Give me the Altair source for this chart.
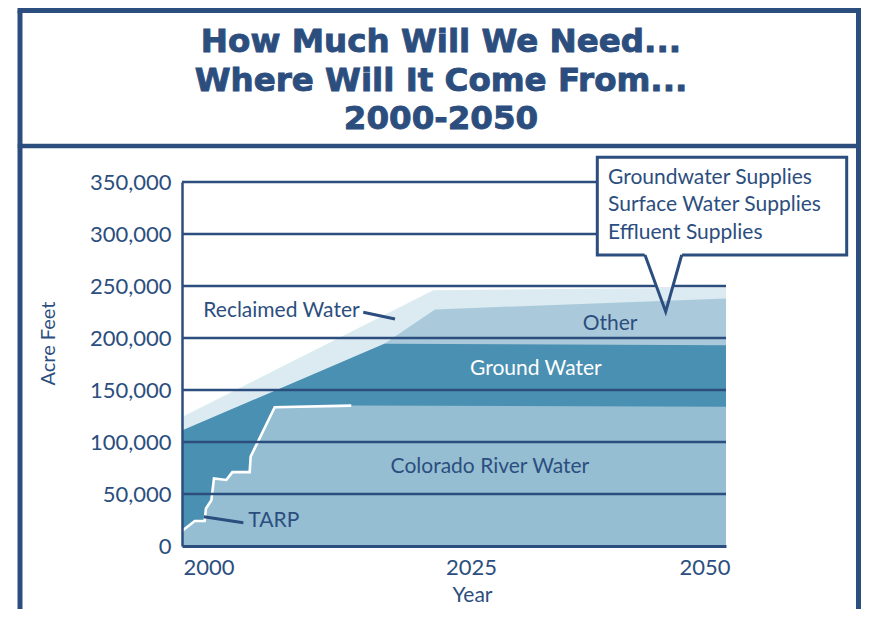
import altair as alt
import pandas as pd

# ---------------- data ----------------
years_colorado = [2000, 2001.17, 2002.08, 2002.2, 2002.7, 2002.94, 2004.07,
                  2004.63, 2006.22, 2006.31, 2008.52, 2015.56, 2050]
colorado = [14500, 24000, 24000, 36000, 44000, 65000, 63500,
            71000, 71000, 86000, 133500, 135000, 134000]

years_tarp = [2000, 2001.17, 2002.08, 2002.2, 2002.7, 2002.94, 2004.07,
              2004.63, 2006.22, 2006.31, 2008.52, 2015.56]
tarp = [14500, 24000, 24000, 36000, 44000, 65000, 63500,
        71000, 71000, 86000, 133500, 135000]

years_ground = [2000, 2018.6, 2050]
ground = [111000, 194500, 193000]

years_other = [2000, 2018.6, 2023.25, 2050]
other = [111000, 194500, 227500, 238000]

years_reclaimed = [2000, 2023.1, 2050]
reclaimed = [124000, 246000, 248500]

grid_values = [50000, 100000, 150000, 200000, 250000, 300000, 350000]
y_ticks = [0, 50000, 100000, 150000, 200000, 250000, 300000, 350000]
x_ticks = [2000, 2025, 2050]

label_text = ["Reclaimed Water", "TARP", "Other", "Ground Water", "Colorado River Water"]
label_year = [2001.96, 2006.1, 2039.34, 2032.52, 2028.3]
label_value = [225500, 24500, 213200, 169900, 75500]
label_pos = ["left", "left", "center", "center", "center"]

leader_year = [2016.66, 2002.0]
leader_year2 = [2019.58, 2005.64]
leader_value = [224700, 28200]
leader_value2 = [218300, 22400]

title_lines = ["How Much Will We Need...", "Where Will It Come From...", "2000-2050"]
box_lines = ["Groundwater Supplies", "Surface Water Supplies", "Effluent Supplies"]

# ---------------- styles ----------------
NAVY = "#2c4e7e"
C_COLORADO = "#95bed3"
C_GROUND = "#4a90b3"
C_OTHER = "#aacadb"
C_RECLAIMED = "#dcebf2"
FONT = "Lato"

W, H = 544, 364

xscale = alt.Scale(domain=[2000, 2050], nice=False, zero=False)
yscale = alt.Scale(domain=[0, 350000], nice=False)

xaxis = alt.Axis(values=x_ticks, format="d", domainColor=NAVY, domainWidth=3,
                 ticks=False, grid=False, labelFont=FONT, labelFontSize=22,
                 labelColor=NAVY, labelPadding=11,
                 labelOffset=alt.ExprRef(expr="datum.value == 2025 ? 17 : (datum.value == 2050 ? 4 : 1)"),
                 title="Year", titleFont=FONT, titleFontSize=21,
                 titleFontWeight="normal", titleColor=NAVY, titleX=290,
                 titleY=49.5, titleBaseline="middle", titleAlign="center",
                 zindex=1)
yaxis = alt.Axis(values=y_ticks, format=",d", domainColor=NAVY, domainWidth=2.5,
                 ticks=False, grid=False, labelFont=FONT, labelFontSize=22,
                 labelColor=NAVY, labelPadding=11,
                 title="Acre Feet", titleFont=FONT, titleFontSize=20,
                 titleFontWeight="normal", titleColor=NAVY, titleAngle=270,
                 titleX=-133.5, titleY=161, titleBaseline="middle",
                 titleAlign="center", zindex=1)

dummy = alt.Data(values=[{}])


def area(years, vals, color, with_axes=False):
    df = pd.DataFrame({"year": years, "value": vals})
    if with_axes:
        x = alt.X("year:Q", scale=xscale, axis=xaxis)
        y = alt.Y("value:Q", scale=yscale, axis=yaxis)
    else:
        x = alt.X("year:Q")
        y = alt.Y("value:Q")
    return alt.Chart(df).mark_area(color=color, opacity=1).encode(x=x, y=y)


reclaimed_area = area(years_reclaimed, reclaimed, C_RECLAIMED, with_axes=True)
other_area = area(years_other, other, C_OTHER)
ground_area = area(years_ground, ground, C_GROUND)
colorado_area = area(years_colorado, colorado, C_COLORADO)

tarp_line = alt.Chart(pd.DataFrame({"year": years_tarp, "value": tarp})).mark_line(
    color="white", strokeWidth=2.6).encode(x="year:Q", y="value:Q")

grid = alt.Chart(pd.DataFrame({"value": grid_values})).mark_rule(
    color=NAVY, strokeWidth=2.5).encode(
    x=alt.datum(2000), x2=alt.datum(2050), y="value:Q")

leaders = alt.Chart(pd.DataFrame({"x": leader_year, "x2": leader_year2,
                                  "y": leader_value, "y2": leader_value2})).mark_rule(
    color=NAVY, strokeWidth=3).encode(x="x:Q", x2="x2:Q", y="y:Q", y2="y2:Q")

labels_df = pd.DataFrame({"text": label_text, "year": label_year,
                          "value": label_value, "pos": label_pos})
label_colors = ["white" if t == "Ground Water" else NAVY for t in label_text]
labels_df["color"] = label_colors

labels_left = alt.Chart(labels_df).transform_filter("datum.pos == 'left'").mark_text(
    font=FONT, fontSize=21, align="left", baseline="middle").encode(
    x="year:Q", y="value:Q", text="text:N", color=alt.Color("color:N", scale=None))
labels_center = alt.Chart(labels_df).transform_filter("datum.pos == 'center'").mark_text(
    font=FONT, fontSize=21, align="center", baseline="middle").encode(
    x="year:Q", y="value:Q", text="text:N", color=alt.Color("color:N", scale=None))

# ---------------- decorations (frame, callout, titles) ----------------
def hrule(x1, x2, y, w):
    return alt.Chart(dummy).mark_rule(color=NAVY, strokeWidth=w, strokeCap="square").encode(
        x=alt.value(x1), x2=alt.value(x2), y=alt.value(y))


def vrule(x, y1, y2, w):
    return alt.Chart(dummy).mark_rule(color=NAVY, strokeWidth=w).encode(
        x=alt.value(x), y=alt.value(y1), y2=alt.value(y2))


frame = [
    hrule(-162, 676.5, -171.5, 5),
    hrule(-162, 676.5, -36, 4.5),
    vrule(-162, -171.5, 440, 5),
    vrule(676.5, -171.5, 440, 5),
]

box = alt.Chart(dummy).mark_rect(fill="white", stroke=NAVY, strokeWidth=3).encode(
    x=alt.value(415.3), x2=alt.value(664.7), y=alt.value(-24.7), y2=alt.value(73))

tri_fill = alt.Chart(dummy).mark_point(
    shape="M -0.64 -1.017 L -0.22 0.133 L 0.30 0.133 L 0.627 -1.017 Z",
    size=3600, filled=True, fill="white", opacity=1, strokeWidth=0).encode(
    x=alt.value(481.5), y=alt.value(101.5))

tri_stroke = alt.Chart(dummy).mark_point(
    shape="M -0.617 -0.95 L 0.0733 0.94 L 0.607 -0.95",
    size=3600, filled=False, stroke=NAVY, strokeWidth=3, opacity=1,
    strokeJoin="miter").encode(x=alt.value(481.5), y=alt.value(101.5))

box_text = alt.Chart(dummy).mark_text(
    font=FONT, fontSize=21, align="left", baseline="middle", color=NAVY,
    lineHeight=27.8).encode(x=alt.value(426), y=alt.value(-4.3), text=alt.value(box_lines))

title_text = alt.Chart(dummy).mark_text(
    font="DejaVu Sans", fontWeight="bold", fontSize=32.5, align="center",
    baseline="middle", color=NAVY, stroke=NAVY, strokeWidth=0.9,
    lineHeight=38.5).encode(
    x=alt.value(259), y=alt.value(-140), text=alt.value(title_lines))

chart = alt.layer(
    reclaimed_area, other_area, ground_area, colorado_area, tarp_line, grid,
    leaders, labels_left, labels_center, *frame, box, tri_fill, tri_stroke,
    box_text, title_text,
).properties(
    width=W, height=H,
    padding={"left": 174, "top": 174, "right": 135, "bottom": 63},
    autosize=alt.AutoSizeParams(type="none"),
    background="white",
).configure_view(strokeWidth=0)

chart.save("out.html", embed_options={"renderer": "svg", "actions": False})
